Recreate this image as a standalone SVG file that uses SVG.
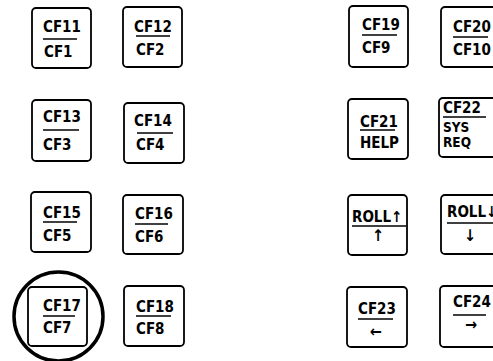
<svg xmlns="http://www.w3.org/2000/svg" width="493" height="361" viewBox="0 0 493 361">
<style>
.k{fill:#fff;stroke:#000;stroke-width:1.8}
.d{stroke:#000;stroke-width:1.5}
text{font-family:"DejaVu Sans Condensed","DejaVu Sans",sans-serif;font-stretch:condensed;font-weight:bold;font-size:15px;fill:#000}
.s{font-size:13.5px}
.a{font-size:16px}
</style>
<rect width="493" height="361" fill="#fff"/>
<g id="cf11"><rect class="k" x="32" y="8" width="59" height="60" rx="4"/><text x="43" y="32">CF11</text><line class="d" x1="43" y1="39" x2="77" y2="39"/><text x="44" y="57">CF1</text></g>
<g id="cf12"><rect class="k" x="123" y="7" width="59" height="60" rx="4"/><text x="134" y="32">CF12</text><line class="d" x1="136" y1="36" x2="170" y2="36"/><text x="136" y="55">CF2</text></g>
<g id="cf13"><rect class="k" x="32" y="100" width="59" height="61" rx="4"/><text x="43" y="122">CF13</text><line class="d" x1="43" y1="130" x2="79" y2="130"/><text x="43" y="150">CF3</text></g>
<g id="cf14"><rect class="k" x="124" y="103" width="60" height="60" rx="4"/><text x="134" y="126">CF14</text><line class="d" x1="137" y1="133" x2="173" y2="133"/><text x="136" y="150">CF4</text></g>
<g id="cf15"><rect class="k" x="31" y="192" width="60" height="60" rx="4"/><text x="43" y="218">CF15</text><line class="d" x1="43" y1="222" x2="77" y2="222"/><text x="43" y="241">CF5</text></g>
<g id="cf16"><rect class="k" x="123" y="195" width="60" height="59" rx="4"/><text x="135" y="219">CF16</text><line class="d" x1="135" y1="224" x2="168" y2="224"/><text x="135" y="242">CF6</text></g>
<g id="cf17"><rect class="k" x="28" y="287" width="59" height="59" rx="4"/><text x="43" y="311">CF17</text><line class="d" x1="43" y1="316" x2="75" y2="316"/><text x="43" y="333">CF7</text><circle cx="58.5" cy="316.5" r="44.5" fill="none" stroke="#000" stroke-width="3.5"/></g>
<g id="cf18"><rect class="k" x="124" y="286" width="60" height="60" rx="4"/><text x="136" y="312">CF18</text><line class="d" x1="136" y1="316" x2="171" y2="316"/><text x="136" y="334">CF8</text></g>
<g id="cf19"><rect class="k" x="349" y="6" width="59" height="61" rx="4"/><text x="362" y="30">CF19</text><line class="d" x1="362" y1="35" x2="397" y2="35"/><text x="362" y="53">CF9</text></g>
<g id="cf20"><rect class="k" x="441" y="7" width="60" height="60" rx="4"/><text x="453" y="32">CF20</text><line class="d" x1="453" y1="37" x2="488" y2="37"/><text x="453" y="55">CF10</text></g>
<g id="cf21"><rect class="k" x="348" y="99" width="60" height="60" rx="4"/><text x="360" y="127">CF21</text><line class="d" x1="360" y1="130" x2="395" y2="130"/><text x="360" y="148">HELP</text></g>
<g id="cf22"><rect class="k" x="439" y="98" width="60" height="59" rx="4"/><text x="443" y="113">CF22</text><line class="d" x1="443" y1="117" x2="486" y2="117"/><text class="s" x="443" y="132">SYS</text><text class="s" x="443" y="147">REQ</text></g>
<g id="rollup"><rect class="k" x="348" y="195" width="59" height="60" rx="4"/><text x="352" y="222">ROLL↑</text><line class="d" x1="352" y1="226" x2="406" y2="226"/><text class="a" x="378" y="241" text-anchor="middle">↑</text></g>
<g id="rolldown"><rect class="k" x="441" y="195" width="60" height="59" rx="4"/><text x="447" y="217">ROLL↓</text><line class="d" x1="447" y1="223" x2="493" y2="223"/><text class="a" x="470" y="241" text-anchor="middle">↓</text></g>
<g id="cf23"><rect class="k" x="347" y="287" width="60" height="60" rx="4"/><text x="358" y="314">CF23</text><line class="d" x1="358" y1="319" x2="393" y2="319"/><text class="a" x="376" y="337" text-anchor="middle">←</text></g>
<g id="cf24"><rect class="k" x="440" y="286" width="60" height="61" rx="4"/><text x="453" y="307">CF24</text><line class="d" x1="453" y1="315" x2="486" y2="315"/><text class="a" x="471" y="330" text-anchor="middle">→</text></g>
<g id="connectors"></g>
</svg>
